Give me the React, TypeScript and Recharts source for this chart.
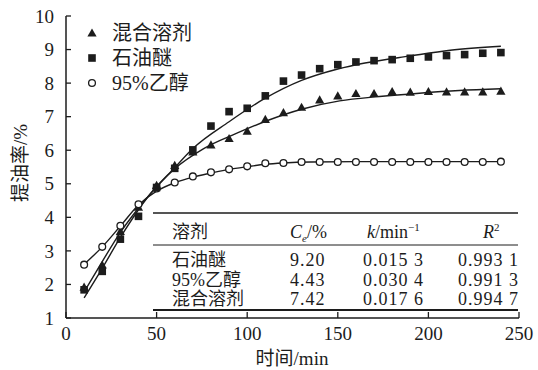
import { ComposedChart, Line, Scatter, XAxis, YAxis } from "recharts";

// sampling times (min)
const times = [10, 20, 30, 40, 50, 60, 70, 80, 90, 100, 110, 120, 130, 140, 150, 160, 170, 180, 190, 200, 210, 220, 230, 240];

// measured yields (%)
const mixedSolvent = [1.92, 2.58, 3.58, 4.3, 4.95, 5.55, 5.95, 6.16, 6.35, 6.57, 6.92, 7.12, 7.28, 7.5, 7.62, 7.69, 7.69, 7.75, 7.73, 7.75, 7.74, 7.74, 7.74, 7.76];
const petEther = [1.84, 2.39, 3.35, 4.03, 4.89, 5.46, 6.01, 6.72, 7.15, 7.25, 7.62, 8.06, 8.24, 8.43, 8.55, 8.63, 8.67, 8.7, 8.74, 8.78, 8.82, 8.85, 8.89, 8.91];
const ethanol = [2.59, 3.12, 3.75, 4.39, 4.86, 5.04, 5.22, 5.34, 5.43, 5.52, 5.61, 5.62, 5.65, 5.65, 5.65, 5.65, 5.65, 5.65, 5.65, 5.65, 5.65, 5.65, 5.65, 5.66];

// fitted curves
const petFitT = [10, 20, 30, 45, 60, 70, 90, 110, 130, 150, 165, 190, 212, 240];
const petFitY = [1.6, 2.48, 3.4, 4.6, 5.48, 6.05, 6.85, 7.55, 8.08, 8.42, 8.6, 8.81, 8.98, 9.1];
const mixFitT = [10, 20, 30, 45, 60, 76, 94, 112, 130, 151, 173, 195, 217, 240];
const mixFitY = [1.78, 2.68, 3.55, 4.6, 5.45, 6.05, 6.5, 6.9, 7.22, 7.47, 7.6, 7.7, 7.78, 7.83];
const ethFitT = [10, 20, 30, 40, 50, 60, 70, 80, 90, 100, 110, 120, 135, 160, 200, 240];
const ethFitY = [2.6, 3.12, 3.74, 4.37, 4.78, 5.03, 5.2, 5.32, 5.43, 5.51, 5.58, 5.62, 5.65, 5.66, 5.66, 5.66];

const xTicks = [0, 50, 100, 150, 200, 250];
const yTicks = [1, 2, 3, 4, 5, 6, 7, 8, 9, 10];

const legendNames = ["混合溶剂", "石油醚", "95%乙醇"];
const tableRows = [
  ["石油醚", "9.20", "0.015 3", "0.993 1"],
  ["95%乙醇", "4.43", "0.030 4", "0.991 3"],
  ["混合溶剂", "7.42", "0.017 6", "0.994 7"],
];

const pts = (xs: number[], ys: number[]) => xs.map((t, i) => ({ t, y: ys[i] }));

const INK = "#1c1c1c";
const SERIF = "'Liberation Serif', 'Noto Sans CJK SC', serif";
const CJK = "'Liberation Serif', 'Noto Sans CJK SC', sans-serif";

const Tri = ({ cx, cy }: any) => (
  <polygon points={`${cx},${cy - 4.6} ${cx - 4.6},${cy + 3.6} ${cx + 4.6},${cy + 3.6}`} fill={INK} />
);
const Sq = ({ cx, cy }: any) => <rect x={cx - 3.8} y={cy - 3.8} width={7.6} height={7.6} fill={INK} />;
const Circ = ({ cx, cy }: any) => <circle cx={cx} cy={cy} r={3.4} fill="#fff" stroke={INK} strokeWidth={1.3} />;

const YTick = ({ x, y, payload }: any) => {
  const ax = x + 12;
  return (
    <g>
      <line x1={ax} x2={ax + 5} y1={y} y2={y} stroke={INK} strokeWidth={1.3} />
      <text x={x} y={y} dy="0.35em" textAnchor="end" fontFamily={SERIF} fontSize={19} fill={INK}>
        {payload.value}
      </text>
    </g>
  );
};

const XTick = ({ x, y, payload }: any) => {
  const ay = y - 9;
  return (
    <g>
      <line x1={x} x2={x} y1={ay} y2={ay - 6} stroke={INK} strokeWidth={1.3} />
      <text x={x} y={y} dy="0.71em" textAnchor="middle" fontFamily={SERIF} fontSize={19} fill={INK}>
        {payload.value}
      </text>
    </g>
  );
};

export default function App() {
  const legendY = [33, 58, 83];
  const rowY = [266, 285.5, 305];
  return (
    <div style={{ position: "absolute", left: 0, top: 0, width: 538, height: 370, background: "#fff" }}>
      <ComposedChart width={538} height={370} margin={{ top: 16, right: 19, bottom: 0, left: 0 }}>
        <XAxis
          dataKey="t"
          type="number"
          domain={[0, 250]}
          ticks={xTicks}
          tick={<XTick />}
          tickSize={0}
          tickMargin={9}
          height={52}
          axisLine={{ stroke: INK, strokeWidth: 1.5 }}
          tickLine={false}
        />
        <YAxis
          dataKey="y"
          type="number"
          domain={[1, 10]}
          ticks={yTicks}
          tick={<YTick />}
          tickSize={0}
          tickMargin={12}
          width={66}
          axisLine={{ stroke: INK, strokeWidth: 1.5 }}
          tickLine={false}
        />
        <Line data={pts(petFitT, petFitY)} dataKey="y" type="monotone" dot={false} stroke={INK} strokeWidth={1.4} isAnimationActive={false} />
        <Line data={pts(mixFitT, mixFitY)} dataKey="y" type="monotone" dot={false} stroke={INK} strokeWidth={1.4} isAnimationActive={false} />
        <Line data={pts(ethFitT, ethFitY)} dataKey="y" type="monotone" dot={false} stroke={INK} strokeWidth={1.4} isAnimationActive={false} />
        <Scatter data={pts(times, mixedSolvent)} shape={(p: any) => <Tri {...p} />} isAnimationActive={false} />
        <Scatter data={pts(times, ethanol)} shape={(p: any) => <Circ {...p} />} isAnimationActive={false} />
        <Scatter data={pts(times, petEther)} shape={(p: any) => <Sq {...p} />} isAnimationActive={false} />
      </ComposedChart>

      <svg width={538} height={370} style={{ position: "absolute", left: 0, top: 0, pointerEvents: "none" }}>
        {/* legend */}
        <Tri cx={92} cy={legendY[0]} />
        <Sq cx={92} cy={legendY[1]} />
        <Circ cx={92} cy={legendY[2]} />
        {legendNames.map((n, i) => (
          <text key={n} x={112} y={legendY[i]} dy="0.36em" fontFamily={CJK} fontSize={20} fill={INK}>
            {n}
          </text>
        ))}

        {/* axis titles */}
        <text x={292} y={358} dy="0.36em" textAnchor="middle" fontFamily={CJK} fontSize={19} fill={INK}>
          时间/min
        </text>
        <text x={20} y={163} dy="0.36em" textAnchor="middle" fontFamily={CJK} fontSize={19} fill={INK} transform="rotate(-90 20 163)">
          提油率/%
        </text>

        {/* kinetics table */}
        <line x1={153} x2={518} y1={213} y2={213} stroke={INK} strokeWidth={1.6} />
        <line x1={153} x2={518} y1={245} y2={245} stroke={INK} strokeWidth={1} />
        <line x1={153} x2={518} y1={310} y2={310} stroke={INK} strokeWidth={2} />
        <g fontFamily={CJK} fontSize={18} fill={INK}>
          <text x={172} y={238}>溶剂</text>
          <text x={290} y={238}>
            <tspan fontStyle="italic">C</tspan>
            <tspan fontStyle="italic" fontSize={11} dy={4}>e</tspan>
            <tspan dy={-4}>/%</tspan>
          </text>
          <text x={367} y={238}>
            <tspan fontStyle="italic">k</tspan>/min
            <tspan fontSize={11} dy={-7}>−1</tspan>
          </text>
          <text x={483} y={238}>
            <tspan fontStyle="italic">R</tspan>
            <tspan fontSize={11} dy={-7}>2</tspan>
          </text>
          {tableRows.map((r, i) => (
            <g key={r[0]}>
              <text x={172} y={rowY[i]}>{r[0]}</text>
              <text x={290} y={rowY[i]} letterSpacing={1}>{r[1]}</text>
              <text x={363} y={rowY[i]} letterSpacing={1}>{r[2]}</text>
              <text x={458} y={rowY[i]} letterSpacing={1}>{r[3]}</text>
            </g>
          ))}
        </g>
      </svg>
    </div>
  );
}
